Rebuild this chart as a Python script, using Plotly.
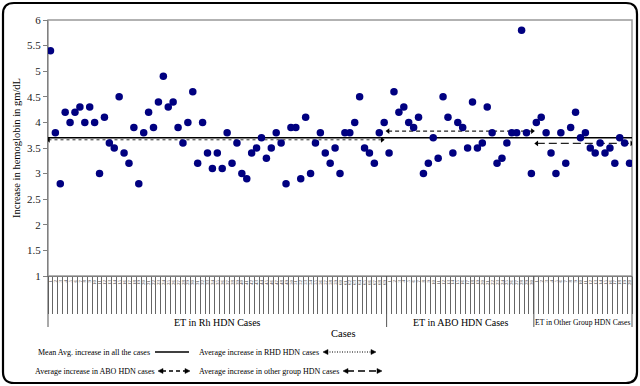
import plotly.graph_objects as go

# ---------------- data ----------------
group_names = ["ET in Rh HDN Cases", "ET in ABO HDN Cases", "ET in Other Group HDN Cases"]
rh_values = [5.4, 3.8, 2.8, 4.2, 4.0, 4.2, 4.3, 4.0, 4.3, 4.0,
             3.0, 4.1, 3.6, 3.5, 4.5, 3.4, 3.2, 3.9, 2.8, 3.8,
             4.2, 3.9, 4.4, 4.9, 4.3, 4.4, 3.9, 3.6, 4.0, 4.6,
             3.2, 4.0, 3.4, 3.1, 3.4, 3.1, 3.8, 3.2, 3.6, 3.0,
             2.9, 3.4, 3.5, 3.7, 3.3, 3.5, 3.8, 3.6, 2.8, 3.9,
             3.9, 2.9, 4.1, 3.0, 3.6, 3.8, 3.4, 3.2, 3.5, 3.0,
             3.8, 3.8, 4.0, 4.5, 3.5, 3.4, 3.2, 3.8, 4.0]
abo_values = [3.4, 4.6, 4.2, 4.3, 4.0, 3.9, 4.1, 3.0, 3.2, 3.7,
              3.3, 4.5, 4.1, 3.4, 4.0, 3.9, 3.5, 4.4, 3.5, 3.6,
              4.3, 3.8, 3.2, 3.3, 3.6, 3.8, 3.8, 5.8, 3.8, 3.0]
other_values = [4.0, 4.1, 3.8, 3.4, 3.0, 3.8, 3.2, 3.9, 4.2, 3.7,
                3.8, 3.5, 3.4, 3.6, 3.4, 3.5, 3.2, 3.7, 3.6, 3.2]
y_ticks = [1, 1.5, 2, 2.5, 3, 3.5, 4, 4.5, 5, 5.5, 6]
mean_all = 3.70
group_avgs = [3.66, 3.83, 3.59]
legend_texts = ["Mean Avg. increase in all the cases",
                "Average increase in RHD HDN cases",
                "Average increase in ABO HDN cases",
                "Average increase in other group HDN cases"]

# ---------------- derived ----------------
groups = [rh_values, abo_values, other_values]
all_values = rh_values + abo_values + other_values
n = len(all_values)
xs = list(range(1, n + 1))
case_labels = []
for g in groups:
    case_labels += [str(i + 1) for i in range(len(g))]
bounds = [0]
for g in groups:
    bounds.append(bounds[-1] + len(g))

SERIF = "Liberation Serif, Times New Roman, serif"
L, R, T, B = 48, 8, 20, 110
W, H = 640, 386
PW, PH = W - L - R, H - T - B


def px(x):
    return (x - L) / PW


def py(y):
    return (T + PH - y) / PH


fig = go.Figure()

# mean line across all cases
fig.add_trace(go.Scatter(x=[0.5, n + 0.5], y=[mean_all, mean_all], mode="lines",
                         line=dict(color="black", width=1.6), hoverinfo="skip"))

# group averages with arrow heads
dashes = ["dot", "4px,3px", "8px,4px"]
starts = [bounds[0] + 0.6, bounds[1] + 0.8, bounds[2] + 1.1]
ends = [bounds[1] - 0.4, bounds[2] + 0.2, bounds[3] + 0.45]
for i in range(3):
    fig.add_trace(go.Scatter(
        x=[starts[i], ends[i]], y=[group_avgs[i], group_avgs[i]],
        mode="lines+markers",
        line=dict(color="#333" if i == 0 else "#222", width=1.0 if i == 0 else 1.4, dash=dashes[i]),
        marker=dict(symbol=["triangle-left", "triangle-right"], size=5, color="black"),
        hoverinfo="skip"))

# data points
fig.add_trace(go.Scatter(x=xs, y=all_values, mode="markers",
                         marker=dict(color="#000080", size=7.5), hoverinfo="skip"))

# invisible trace for the tick-line axis
fig.add_trace(go.Scatter(x=[1], y=[1], xaxis="x2", mode="markers",
                         marker=dict(opacity=0), hoverinfo="skip"))

fig.update_layout(
    width=W, height=H,
    margin=dict(l=L, r=R, t=T, b=B),
    paper_bgcolor="white", plot_bgcolor="white",
    showlegend=False,
    font=dict(family=SERIF, color="black"),
    xaxis=dict(range=[0.5, n + 0.5], tickmode="array", tickvals=xs, ticktext=case_labels,
               tickangle=-90, tickfont=dict(size=5, color="#444"), ticks="",
               showline=True, linecolor="#808080", linewidth=1, showgrid=False,
               zeroline=False, ticklabelstandoff=1),
    xaxis2=dict(range=[0.5, n + 0.5], overlaying="x", anchor="y", side="bottom",
                tickmode="array", tickvals=[b + 0.5 for b in range(n + 1)],
                ticks="outside", ticklen=37, tickwidth=1, tickcolor="#666",
                showticklabels=False, showgrid=False, zeroline=False, showline=False),
    yaxis=dict(range=[1, 6], tickmode="array", tickvals=y_ticks,
               ticktext=[("%g" % v) for v in y_ticks],
               ticks="outside", ticklen=4, tickcolor="#808080",
               showline=True, linecolor="#808080", linewidth=1,
               showgrid=False, zeroline=False,
               tickfont=dict(family=SERIF, size=11, color="#222"),
               title=dict(text="Increase in hemoglobin in gm/dL",
                          font=dict(family=SERIF, size=10.5), standoff=4)),
)

shapes = []
annotations = []

# plot-area border (top and right, gray)
shapes.append(dict(type="rect", xref="paper", yref="paper", x0=0, x1=1, y0=0, y1=1,
                   line=dict(color="#999", width=1.5), layer="below"))

# group dividers under the axis
for b in bounds:
    xp = b / n
    shapes.append(dict(type="line", xref="paper", yref="paper", x0=xp, x1=xp,
                       y0=0, y1=py(327), line=dict(color="#555", width=1)))

# group labels
label_sizes = [10, 10, 7.6]
for i, name in enumerate(group_names):
    cx = (bounds[i] + bounds[i + 1]) / 2 / n
    annotations.append(dict(text=name, xref="paper", yref="paper", x=cx, y=py(322.5),
                            showarrow=False, font=dict(family=SERIF, size=label_sizes[i]),
                            xanchor="center", yanchor="middle"))

# x-axis title
annotations.append(dict(text="Cases", xref="paper", yref="paper", x=px(343), y=py(333),
                        showarrow=False, font=dict(family=SERIF, size=10.5),
                        xanchor="center", yanchor="middle"))

# legend
leg = [  # text left x, row y, sample x0, x1, dash, arrows
    (36, 352, 155, 189, "solid", False),
    (197, 352, 323, 376, "1px,1.5px", True),
    (33, 371, 158, 190, "4px,3px", True),
    (197, 371, 343, 382, "7px,4px", True),
]
for (tx, ty, sx0, sx1, dsh, arr), txt in zip(leg, legend_texts):
    annotations.append(dict(text=txt, xref="paper", yref="paper", x=px(tx), y=py(ty),
                            showarrow=False, font=dict(family=SERIF, size=8),
                            xanchor="left", yanchor="middle"))
    shapes.append(dict(type="line", xref="paper", yref="paper",
                       x0=px(sx0 + (4 if arr else 0)), x1=px(sx1 - (4 if arr else 0)),
                       y0=py(ty), y1=py(ty),
                       line=dict(color="black", width=1.5 if not arr else (1 if dsh.startswith("1px") else 1.4),
                                 dash=dsh)))
    if arr:
        for tip, back in ((sx0, sx0 + 5), (sx1, sx1 - 5)):
            path = "M %f,%f L %f,%f L %f,%f Z" % (px(tip), py(ty), px(back), py(ty - 2.5),
                                                  px(back), py(ty + 2.5))
            shapes.append(dict(type="path", xref="paper", yref="paper", path=path,
                               fillcolor="black", line=dict(color="black", width=0.5)))

# outer rounded frame
x0f, x1f, y0f, y1f, r = 3, 637, 3, 383, 11
pts = [
    ("M", x0f + r, y0f), ("L", x1f - r, y0f), ("Q", x1f, y0f, x1f, y0f + r),
    ("L", x1f, y1f - r), ("Q", x1f, y1f, x1f - r, y1f), ("L", x0f + r, y1f),
    ("Q", x0f, y1f, x0f, y1f - r), ("L", x0f, y0f + r), ("Q", x0f, y0f, x0f + r, y0f),
]
segs = []
for p in pts:
    if p[0] == "Q":
        segs.append("Q %f,%f %f,%f" % (px(p[1]), py(p[2]), px(p[3]), py(p[4])))
    else:
        segs.append("%s %f,%f" % (p[0], px(p[1]), py(p[2])))
shapes.append(dict(type="path", xref="paper", yref="paper", path=" ".join(segs) + " Z",
                   line=dict(color="black", width=2.2)))

fig.update_layout(shapes=shapes, annotations=annotations)
fig.write_html("out.html", config={"displayModeBar": False},
               post_script="document.body.style.margin='0';document.body.style.overflow='hidden';")
